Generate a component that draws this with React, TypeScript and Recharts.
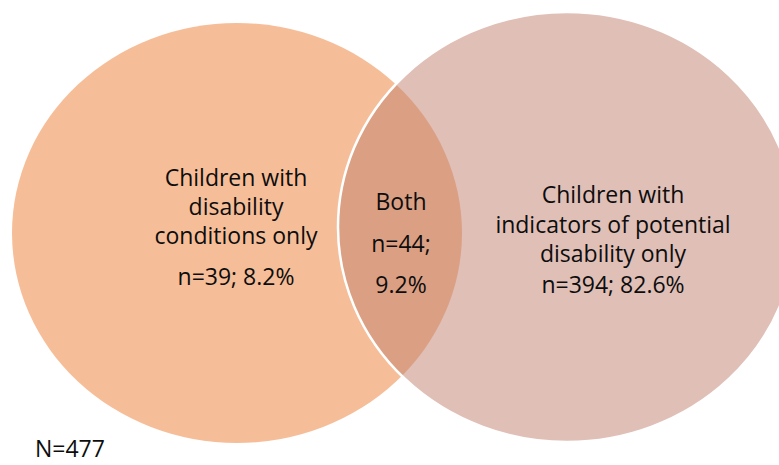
import React from 'react';
import { ScatterChart, Scatter, XAxis, YAxis } from 'recharts';

// ---- data ----
const setLabels: string[][] = [
  ['Children with', 'disability', 'conditions only'],
  ['Both'],
  ['Children with', 'indicators of potential', 'disability only'],
];
const setCounts = [39, 44, 394];
const setPercents = [8.2, 9.2, 82.6];
const totalN = 477;

// ---- layout (in chart domain units) ----
const W = 779;
const H = 465;
const circleX = [237, 567];
const circleY = [233, 227];
const circleRX = [225, 229];
const circleRY = [210, 215];
const labelX = [236, 401, 613];
const labelY = [186, 210, 203];
const lineGaps = [
  [0, 29, 29, 41],
  [0, 42, 41],
  [0, 30, 29, 31],
];
const totalLabelX = 35;
const totalLabelY = 457;

const COLORS = { left: '#F6BE98', right: '#E0BFB7', both: '#DBA084', text: '#0d0d0d' };
const FONT = "'Open Sans', sans-serif";
const FONT_SIZE = 23;

const sx = (v: number) => (v * W) / W;

const circleData = circleX.map((x, i) => ({ x, y: circleY[i], rx: circleRX[i], ry: circleRY[i], idx: i }));

const labelData = setLabels.map((lines, i) => {
  const all =
    i === 1
      ? [...lines, `n=${setCounts[i]};`, `${setPercents[i].toFixed(1)}%`]
      : [...lines, `n=${setCounts[i]}; ${setPercents[i].toFixed(1)}%`];
  return { x: labelX[i], y: labelY[i], lines: all, gaps: lineGaps[i], anchor: 'middle' };
});
const totalData = [{ x: totalLabelX, y: totalLabelY, lines: [`N=${totalN}`], gaps: [0], anchor: 'start' }];

const LeftShape = (props: any) => {
  const { cx, cy, payload } = props;
  return <ellipse cx={cx} cy={cy} rx={sx(payload.rx)} ry={sx(payload.ry)} fill={COLORS.left} />;
};

const RightShape = (props: any) => {
  const { cx, cy, payload } = props;
  return <ellipse cx={cx} cy={cy} rx={sx(payload.rx)} ry={sx(payload.ry)} fill={COLORS.right} />;
};

const LensShape = (props: any) => {
  const { cx, cy } = props;
  // cx, cy = left circle center in pixels
  const rcx = cx + sx(circleX[1] - circleX[0]);
  const rcy = cy + sx(circleY[1] - circleY[0]);
  return (
    <g>
      <defs>
        <clipPath id="lensClip">
          <ellipse cx={rcx} cy={rcy} rx={sx(circleRX[1])} ry={sx(circleRY[1])} />
        </clipPath>
      </defs>
      <ellipse cx={cx} cy={cy} rx={sx(circleRX[0])} ry={sx(circleRY[0])} fill={COLORS.both} clipPath="url(#lensClip)" />
      <ellipse cx={rcx} cy={rcy} rx={sx(circleRX[1])} ry={sx(circleRY[1])} fill="none" stroke="#ffffff" strokeWidth={2.5} />
    </g>
  );
};

const TextShape = (props: any) => {
  const { cx, cy, payload } = props;
  let acc = 0;
  return (
    <text x={cx} y={cy} textAnchor={payload.anchor} fontFamily={FONT} fontSize={FONT_SIZE} fill={COLORS.text}>
      {payload.lines.map((l: string, i: number) => {
        acc += payload.gaps[i] || 0;
        return (
          <tspan key={i} x={cx} y={cy + acc}>
            {l}
          </tspan>
        );
      })}
    </text>
  );
};

export default function App() {
  return (
    <div style={{ position: 'absolute', left: 0, top: 0, width: W, height: H, background: '#fff' }}>
      <ScatterChart width={W} height={H} margin={{ top: 0, right: 0, bottom: 0, left: 0 }}>
        <XAxis type="number" dataKey="x" domain={[0, W]} hide allowDataOverflow />
        <YAxis type="number" dataKey="y" domain={[0, H]} reversed hide allowDataOverflow />
        <Scatter data={[circleData[0]]} shape={LeftShape} isAnimationActive={false} />
        <Scatter data={[circleData[1]]} shape={RightShape} isAnimationActive={false} />
        <Scatter data={[circleData[0]]} shape={LensShape} isAnimationActive={false} />
        <Scatter data={labelData} shape={TextShape} isAnimationActive={false} />
        <Scatter data={totalData} shape={TextShape} isAnimationActive={false} />
      </ScatterChart>
    </div>
  );
}
